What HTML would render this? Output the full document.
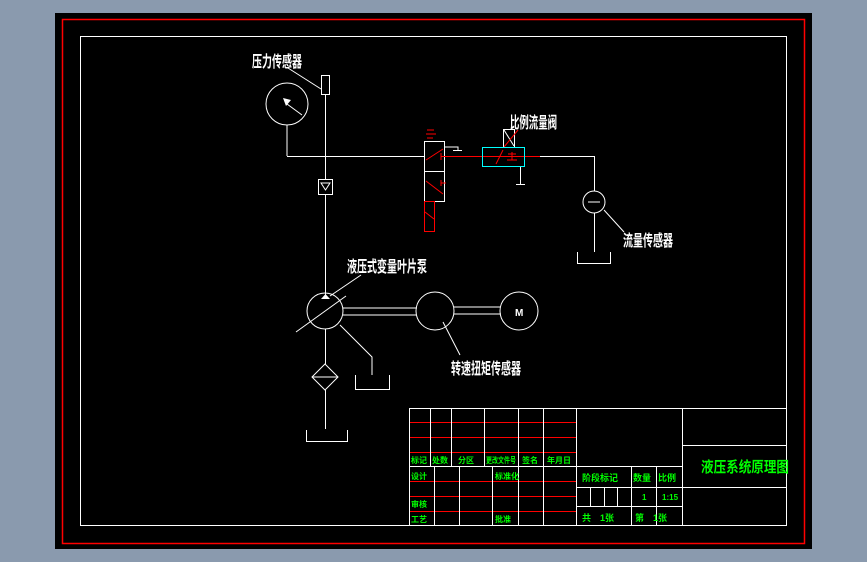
<!DOCTYPE html>
<html><head><meta charset="utf-8"><style>
html,body{margin:0;padding:0;background:#8a9aae;}
svg{display:block}
text{font-family:"Liberation Sans","WenQuanYi Zen Hei","Noto Sans CJK SC",sans-serif;font-weight:bold}
</style></head><body>
<svg width="867" height="562" viewBox="0 0 867 562" xmlns="http://www.w3.org/2000/svg">
<rect x="0" y="0" width="867" height="562" fill="#8a9aae"/>
<rect x="55" y="13" width="757" height="536" fill="#000"/>
<rect x="62.5" y="19.5" width="742" height="524" fill="none" stroke="#f00" stroke-width="1.5"/>
<rect x="80.5" y="36.5" width="706" height="489" fill="none" stroke="#fff" stroke-width="1"/>

<g stroke="#fff" stroke-width="1" fill="none">
<rect x="321.5" y="75.5" width="8" height="19"/>
<line x1="288" y1="68" x2="321" y2="89"/>
<circle cx="287" cy="104" r="21"/>
<line x1="287" y1="104" x2="302" y2="115"/>
<line x1="287" y1="125" x2="287" y2="156"/>
<line x1="287" y1="156.5" x2="424" y2="156.5"/>
<line x1="325.5" y1="94" x2="325.5" y2="296"/>
<rect x="318.5" y="179.5" width="14" height="15" fill="#000"/>
<path d="M321 183 L330 183 L325.5 190 Z"/>
<rect x="424.5" y="141.5" width="20" height="30"/>
<rect x="424.5" y="171.5" width="20" height="30"/>
<path d="M444 147 L458 147 L458 150 M453 150.5 L462 150.5"/>
<rect x="503.5" y="129.5" width="11" height="18"/>
<line x1="504" y1="130" x2="514" y2="146"/>
<path d="M520.5 166 L520.5 184 M516 184.5 L525 184.5"/>
<path d="M540 156.5 L594.5 156.5 L594.5 191"/>
<circle cx="594" cy="202" r="11"/>
<line x1="588" y1="202" x2="600" y2="202"/>
<line x1="594.5" y1="213" x2="594.5" y2="252"/>
<path d="M577.5 252 L577.5 263.5 L610.5 263.5 L610.5 252"/>
<line x1="604" y1="210" x2="624" y2="232"/>
<circle cx="325" cy="311" r="18"/>
<line x1="296" y1="332" x2="346" y2="296"/>
<line x1="330" y1="296" x2="361" y2="275"/>
<path d="M343 308 L417 308 M343 315 L417 315"/>
<circle cx="435" cy="311" r="19"/>
<path d="M454 307 L501 307 M454 314 L501 314"/>
<circle cx="519" cy="311" r="19"/>
<line x1="443" y1="322" x2="460" y2="355"/>
<path d="M340 325 L372 357 L372 375"/>
<path d="M355.5 375 L355.5 389.5 L389.5 389.5 L389.5 375"/>
<line x1="325.5" y1="329" x2="325.5" y2="364"/>
<path d="M325 364 L338 377 L325 390 L312 377 Z"/>
<line x1="312" y1="377" x2="338" y2="377"/>
<line x1="325.5" y1="390" x2="325.5" y2="429"/>
<path d="M306.5 430 L306.5 441.5 L347.5 441.5 L347.5 430"/>
</g>
<path d="M321 299 L330 299 L325.5 294 Z" fill="#fff"/>
<path d="M283 98 L291 100 L286 106 Z" fill="#fff"/>
<text x="515" y="316" fill="#fff" font-size="10">M</text>

<g stroke="#f00" stroke-width="1" fill="none">
<path d="M427 130 L434 130 M426 134 L436 134 M427 138 L433 138"/>
<line x1="426" y1="160" x2="443" y2="149"/>
<line x1="426" y1="181" x2="443" y2="194"/>
<line x1="441" y1="156.5" x2="540" y2="156.5"/>
<line x1="441" y1="153" x2="441" y2="160"/>
<line x1="441" y1="183" x2="446" y2="183"/>
<line x1="441" y1="180" x2="441" y2="186"/>
<rect x="424.5" y="201.5" width="10" height="30"/>
<line x1="425" y1="212" x2="434" y2="219"/>
<line x1="504" y1="147" x2="518" y2="130"/>
<line x1="496" y1="164" x2="503" y2="150"/>
<path d="M507 160 L517 160 M512 152 L512 160 M508 154 L516 154"/>
</g>
<rect x="482.5" y="147.5" width="42" height="19" fill="none" stroke="#0ff" stroke-width="1"/>

<g fill="#fff" font-size="16">
<text x="252" y="67" textLength="50" lengthAdjust="spacingAndGlyphs">压力传感器</text>
<text x="510" y="128" textLength="47" lengthAdjust="spacingAndGlyphs">比例流量阀</text>
<text x="623" y="246" textLength="50" lengthAdjust="spacingAndGlyphs">流量传感器</text>
<text x="347" y="272" textLength="80" lengthAdjust="spacingAndGlyphs">液压式变量叶片泵</text>
<text x="451" y="374" textLength="70" lengthAdjust="spacingAndGlyphs">转速扭矩传感器</text>
</g>

<g stroke="#f00" stroke-width="1">
<path d="M410 422.5 H576 M410 437.5 H576 M410 452.5 H576 M410 481.5 H576 M410 496.5 H576 M410 511.5 H576"/>
</g>
<g stroke="#fff" stroke-width="1" fill="none">
<rect x="409.5" y="408.5" width="377" height="117"/>
<path d="M430.5 408 V466 M451.5 408 V466 M484.5 408 V466 M518.5 408 V525 M543.5 408 V525 M576.5 408 V525 M682.5 408 V525"/>
<path d="M410 466.5 H682 M434.5 466 V525 M459.5 466 V525 M492.5 466 V525"/>
<path d="M576 487.5 H682 M576 506.5 H682 M631.5 466 V525 M656.5 466 V525 M590.5 487 V506 M604.5 487 V506 M617.5 487 V506"/>
<path d="M682 445.5 H786 M682 487.5 H786"/>
</g>
<g fill="#0f0" font-size="8">
<text x="411" y="463">标记</text><text x="432" y="463">处数</text><text x="458" y="463">分区</text>
<text x="486" y="463" textLength="30" lengthAdjust="spacingAndGlyphs">更改文件号</text><text x="522" y="463">签名</text><text x="547" y="463">年月日</text>
<text x="411" y="479">设计</text><text x="495" y="479">标准化</text>
<text x="411" y="507">审核</text><text x="411" y="522">工艺</text><text x="495" y="522">批准</text>
<text x="582" y="481" font-size="9">阶段标记</text><text x="633" y="481" font-size="9">数量</text><text x="658" y="481" font-size="9">比例</text>
<text x="642" y="500">1</text><text x="662" y="500">1:15</text>
<text x="582" y="521" font-size="9">共　1张</text><text x="635" y="521" font-size="9">第　1张</text>
<text x="701" y="472" font-size="15" textLength="88" lengthAdjust="spacingAndGlyphs">液压系统原理图</text>
</g>
</svg>
</body></html>
